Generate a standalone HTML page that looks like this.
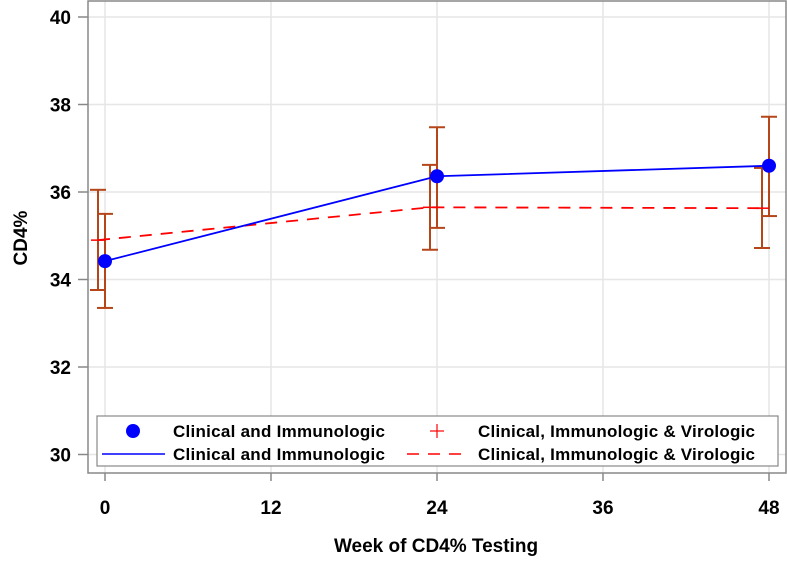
<!DOCTYPE html>
<html><head><meta charset="utf-8"><style>
body{margin:0;background:#fff}
svg text{font-family:"Liberation Sans",sans-serif;font-weight:bold;fill:#000}
</style></head><body>
<svg id="chart" width="787" height="556" xmlns="http://www.w3.org/2000/svg">
<g id="grid"></g>
<rect x="88" y="1" width="698" height="472" fill="none" stroke="#888" stroke-width="1.5"/>
<g id="axes"></g>
<g id="marks"></g>
<text x="436" y="552" text-anchor="middle" font-size="19">Week of CD4% Testing</text>
<text transform="translate(27,238) rotate(-90)" text-anchor="middle" font-size="19">CD4%</text>
<g>
<rect x="97" y="416" width="681" height="50" fill="#fff" stroke="#888" stroke-width="1.2"/>
<circle cx="133" cy="431" r="7" fill="#0000ff"/>
<text x="173" y="437" font-size="17" textLength="212">Clinical and Immunologic</text>
<line x1="102" y1="454" x2="165" y2="454" stroke="#0000ff" stroke-width="1.5"/>
<text x="173" y="460" font-size="17" textLength="212">Clinical and Immunologic</text>
<line x1="437" y1="424" x2="437" y2="438" stroke="#f00" stroke-width="1.2"/>
<line x1="430" y1="431" x2="444" y2="431" stroke="#f00" stroke-width="1.2"/>
<text x="478" y="437" font-size="17" textLength="277">Clinical, Immunologic &amp; Virologic</text>
<line x1="407" y1="454" x2="470" y2="454" stroke="#f00" stroke-width="1.5" stroke-dasharray="12,9"/>
<text x="478" y="460" font-size="17" textLength="277">Clinical, Immunologic &amp; Virologic</text>
</g>
</svg>
<script>
const weeks=[0,24,48];
const blueMean=[34.42,36.36,36.6];
const blueLow=[33.35,35.18,35.45];
const blueHigh=[35.5,37.48,37.72];
const redMean=[34.9,35.65,35.63];
const redLow=[33.76,34.68,34.72];
const redHigh=[36.05,36.62,36.55];
const xTicks=[0,12,24,36,48];
const yTicks=[30,32,34,36,38,40];
const NS="http://www.w3.org/2000/svg";
const xs=v=>105+v*(664/48);
const ys=v=>17+(40-v)*43.75;
function mk(tag,attrs,parent){const e=document.createElementNS(NS,tag);for(const k in attrs)e.setAttribute(k,attrs[k]);document.getElementById(parent).appendChild(e);return e;}
xTicks.forEach(t=>{
 let g=mk('line',{x1:xs(t),x2:xs(t),y1:1,y2:473,stroke:'#e6e6e6','stroke-width':1.5},'grid');
 
 
 let tk=mk('line',{x1:xs(t),x2:xs(t),y1:473,y2:481,stroke:'#888','stroke-width':1.5},'axes');
 
 
 let tx=mk('text',{x:xs(t),y:514,'text-anchor':'middle','font-size':19},'axes');tx.textContent=t;
 
 
});
yTicks.forEach(t=>{
 let g=mk('line',{x1:88,x2:786,y1:ys(t),y2:ys(t),stroke:'#e6e6e6','stroke-width':1.5},'grid');
 
 
 let tk=mk('line',{x1:78,x2:88,y1:ys(t),y2:ys(t),stroke:'#888','stroke-width':1.5},'axes');
 
 
 let tx=mk('text',{x:71,y:ys(t)+7,'text-anchor':'end','font-size':19},'axes');tx.textContent=t;
 
 
});
function bars(lo,hi,off,name){
 weeks.forEach((w,i)=>{
  const x=xs(w)+off;
  [[x,ys(lo[i]),x,ys(hi[i])],[x-8,ys(lo[i]),x+8,ys(lo[i])],[x-8,ys(hi[i]),x+8,ys(hi[i])]].forEach(c=>{
   let l=mk('line',{x1:c[0],y1:c[1],x2:c[2],y2:c[3],stroke:'#b5461a','stroke-width':2},'marks');
   
   
  });
 });
}
bars(redLow,redHigh,-7,'red-error-bar');
bars(blueLow,blueHigh,0,'blue-error-bar');
let rp=mk('polyline',{points:weeks.map((w,i)=>(xs(w)-7)+','+ys(redMean[i])).join(' '),fill:'none',stroke:'#f00','stroke-width':1.8,'stroke-dasharray':'12,9'},'marks');


weeks.forEach((w,i)=>{
 let h=mk('line',{x1:xs(w)-14,x2:xs(w),y1:ys(redMean[i]),y2:ys(redMean[i]),stroke:'#f00','stroke-width':1.5},'marks');
 
 
});
let bp=mk('polyline',{points:weeks.map((w,i)=>xs(w)+','+ys(blueMean[i])).join(' '),fill:'none',stroke:'#0000ff','stroke-width':1.8},'marks');


weeks.forEach((w,i)=>{
 let c=mk('circle',{cx:xs(w),cy:ys(blueMean[i]),r:7,fill:'#0000ff'},'marks');
 
 
});
</script>
</body></html>
